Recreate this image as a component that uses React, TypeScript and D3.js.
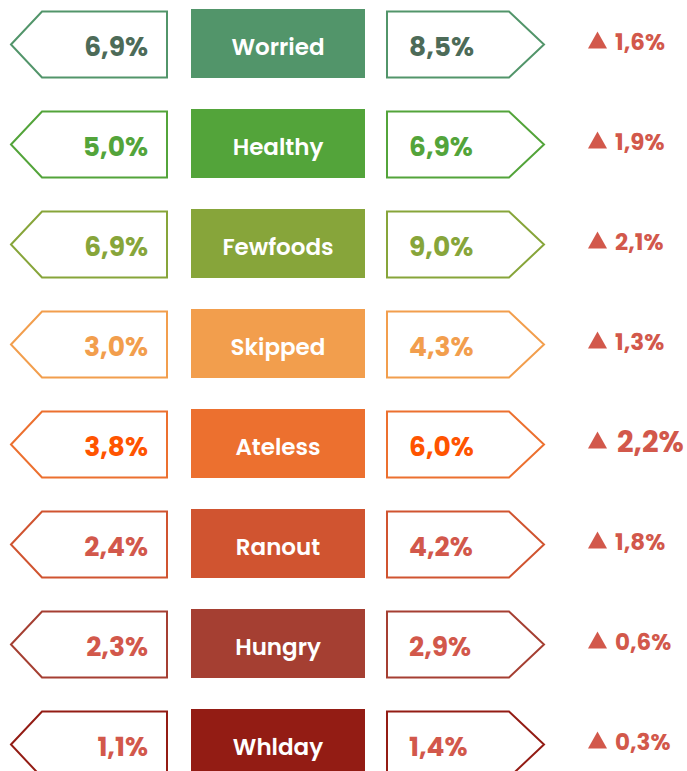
import React from "react";
import * as d3 from "d3";

const categories = ["Worried", "Healthy", "Fewfoods", "Skipped", "Ateless", "Ranout", "Hungry", "Whlday"];
const before = [6.9, 5.0, 6.9, 3.0, 3.8, 2.4, 2.3, 1.1];
const after = [8.5, 6.9, 9.0, 4.3, 6.0, 4.2, 2.9, 1.4];
const changes = [1.6, 1.9, 2.1, 1.3, 2.2, 1.8, 0.6, 0.3];
const fills = ["#52956a", "#53a43a", "#87a53a", "#f29e4d", "#ec702f", "#d05430", "#a53f32", "#931c14"];
const valueColors = ["#4d6b58", "#53a43a", "#87a53a", "#f29e4d", "#ff5400", "#d2584b", "#d2584b", "#d2584b"];
const deltaColor = "#d2584b";

const W = 687;
const H = 771;
const FONT = "Poppins, 'Open Sans', sans-serif";
const fmt = (v: number) => d3.format(".1f")(v).replace(".", ",") + "%";

export default function App() {
  const y = d3.scaleBand<string>().domain(categories).range([9, 778]).paddingInner(0.31).paddingOuter(0);
  const bh = y.bandwidth();
  return (
    <svg width={W} height={H} style={{ position: "absolute", left: 0, top: 0 }}>
      {categories.map((c, i) => {
        const y0 = y(c)!;
        const top = y0 + 2.5;
        const bot = y0 + bh - 0.5;
        const mid = (top + bot) / 2;
        const leftPath = `M11,${mid} L42,${top} L167,${top} L167,${bot} L42,${bot} Z`;
        const rightPath = `M387,${top} L509,${top} L544,${mid} L509,${bot} L387,${bot} Z`;
        const big = changes[i] === d3.max(changes);
        return (
          <g key={c}>
            <path d={leftPath} fill="#fff" stroke={fills[i]} strokeWidth={2} />
            <rect x={191} y={y0} width={174} height={bh} fill={fills[i]} />
            <path d={rightPath} fill="#fff" stroke={fills[i]} strokeWidth={2} />
            <text x={148} y={mid + 11.5} textAnchor="end" fill={valueColors[i]} fontFamily={FONT} fontWeight={700} fontSize={26.5}>
              {fmt(before[i])}
            </text>
            <text x={278} y={mid + 10} textAnchor="middle" fill="#fff" fontFamily={FONT} fontWeight={600} fontSize={23}>
              {c}
            </text>
            <text x={409} y={mid + 11.5} textAnchor="start" fill={valueColors[i]} fontFamily={FONT} fontWeight={700} fontSize={26.5}>
              {fmt(after[i])}
            </text>
            <path d={`M588,${mid + 6} L597.5,${mid - 11} L607,${mid + 6} Z`} fill={deltaColor} transform={`translate(0,${-2})`} />
            <text x={big ? 617 : 615} y={mid + (big ? 7 : 5)} fill={deltaColor} fontFamily={FONT} fontWeight={700} fontSize={big ? 29 : 23}>
              {fmt(changes[i])}
            </text>
          </g>
        );
      })}
    </svg>
  );
}
